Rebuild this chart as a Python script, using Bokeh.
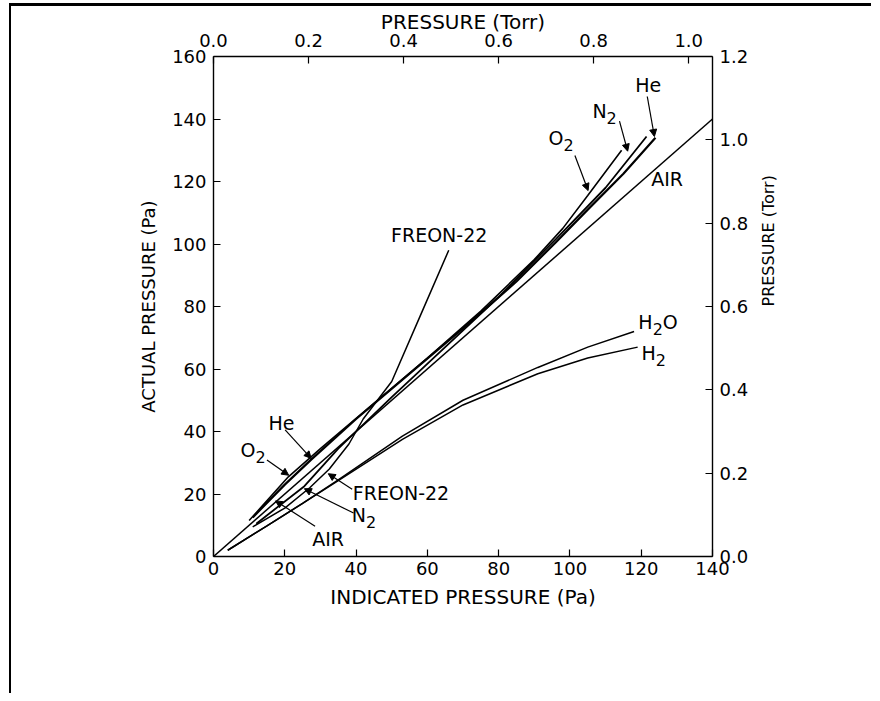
import math
from bokeh.plotting import figure
from bokeh.models import (Range1d, LinearAxis, FixedTicker, PrintfTickFormatter,
                          ColumnDataSource, Arrow, NormalHead)
from bokeh.core.properties import value
from bokeh.embed import file_html
from bokeh.resources import INLINE

PA_PER_TORR = 133.322

# ---- axes ticks ----
x_ticks = [0, 20, 40, 60, 80, 100, 120, 140]
y_ticks = [0, 20, 40, 60, 80, 100, 120, 140, 160]
torr_top_ticks = [0.0, 0.2, 0.4, 0.6, 0.8, 1.0]
torr_right_ticks = [0.0, 0.2, 0.4, 0.6, 0.8, 1.0, 1.2]

# ---- series: indicated pressure (Pa) vs actual pressure (Pa) ----
air_x = [0, 140]
air_y = [0, 140]

he_x = [11, 20, 27.4, 40, 55, 70, 85, 96, 105, 115, 124]
he_y = [12.5, 23, 31, 44, 58.5, 73, 88, 100.5, 111, 122.5, 134]

o2_x = [10, 21, 30, 45, 60, 75, 90, 98, 105, 114.5]
o2_y = [11.5, 25.5, 34.5, 49, 63.5, 78.5, 95, 105, 115.5, 130]

n2_x = [12, 25.5, 35, 50, 65, 80, 96, 110, 121.5]
n2_y = [10.5, 22.5, 34.5, 51, 67, 83, 101.5, 118, 134.4]

freon_x = [11, 20, 27, 32.5, 38, 42, 46, 50, 58, 66]
freon_y = [9.5, 15.5, 22, 28, 36, 44, 50, 56, 77, 98]

h2o_x = [4, 15, 25, 35, 53, 70, 91, 105, 118]
h2o_y = [2, 9.8, 17, 24.5, 38.5, 50, 60.5, 67, 72]

h2_x = [4, 15, 25, 35, 53, 70, 91, 105, 119]
h2_y = [2, 9.8, 17, 24.3, 37.5, 48.5, 58.5, 63.5, 67]

# ---- curve labels ----
label_base = ["He", "N", "O", "AIR", "FREON-22", "H", "H", "He", "O", "FREON-22", "N", "AIR"]
label_sub = ["", "2", "2", "", "", "2", "2", "", "2", "", "2", ""]
label_tail = ["", "", "", "", "", "O", "", "", "", "", "", ""]
label_x = [118.3, 106.3, 94.0, 122.8, 49.8, 119.2, 120.1, 15.4, 7.6, 39.1, 38.8, 27.7]
label_y = [151.0, 142.6, 133.8, 120.7, 102.8, 75.0, 65.2, 42.8, 34.2, 20.4, 13.3, 5.6]

# ---- leader arrows ----
arrow_x0 = [121.7, 113.9, 101.4, 20.1, 15.0, 39.3, 28.5, 38.9]
arrow_y0 = [147.2, 139.3, 128.3, 40.5, 30.9, 13.9, 9.7, 21.5]
arrow_x1 = [123.7, 116.2, 105.1, 27.4, 21.1, 25.5, 17.4, 32.2]
arrow_y1 = [134.4, 129.7, 117.1, 31.4, 26.0, 21.7, 17.8, 26.5]

FONT = "DejaVu Sans"

p = figure(width=862, height=690, x_range=Range1d(0, 140), y_range=Range1d(0, 160),
           output_backend="svg", toolbar_location=None,
           min_border_left=202, min_border_right=161, min_border_top=49, min_border_bottom=140)
p.styles = {"margin-top": "3px", "margin-left": "9px",
            "border-top": "3px solid black", "border-left": "2px solid black"}
p.grid.visible = False
p.outline_line_color = None
p.background_fill_color = "white"
p.border_fill_color = "white"

bottom_axis = p.below[0]
left_axis = p.left[0]

p.extra_x_ranges = {"torr_x": Range1d(0, 140 / PA_PER_TORR)}
p.extra_y_ranges = {"torr_y": Range1d(0, 160 / PA_PER_TORR)}

top_axis = LinearAxis(x_range_name="torr_x", ticker=FixedTicker(ticks=torr_top_ticks),
                      formatter=PrintfTickFormatter(format="%.1f"), axis_label="PRESSURE (Torr)")
right_axis = LinearAxis(y_range_name="torr_y", ticker=FixedTicker(ticks=torr_right_ticks),
                        formatter=PrintfTickFormatter(format="%.1f"), axis_label="PRESSURE (Torr)")
p.add_layout(top_axis, "above")
p.add_layout(right_axis, "right")

bottom_axis.ticker = FixedTicker(ticks=x_ticks)
left_axis.ticker = FixedTicker(ticks=y_ticks)
bottom_axis.axis_label = "INDICATED PRESSURE (Pa)"
left_axis.axis_label = "ACTUAL PRESSURE (Pa)"

for ax in [bottom_axis, left_axis, top_axis, right_axis]:
    ax.major_tick_in = 7
    ax.major_tick_out = 0
    ax.minor_tick_in = 0
    ax.minor_tick_out = 0
    ax.axis_line_color = "black"
    ax.axis_line_width = 1.4
    ax.major_tick_line_color = "black"
    ax.major_tick_line_width = 1.2
    ax.major_label_text_font = FONT
    ax.major_label_text_font_size = "18px"
    ax.major_label_text_color = "black"
    ax.axis_label_text_font = FONT
    ax.axis_label_text_font_style = "normal"
    ax.axis_label_text_color = "black"

bottom_axis.major_label_standoff = 5
bottom_axis.axis_label_standoff = 7
bottom_axis.axis_label_text_font_size = "20px"
left_axis.major_label_standoff = 7
left_axis.axis_label_standoff = 10
left_axis.axis_label_text_font_size = "18px"
top_axis.major_label_standoff = 10
top_axis.axis_label_standoff = -3
top_axis.axis_label_text_font_size = "20px"
right_axis.major_label_standoff = 7
right_axis.axis_label_standoff = 17
right_axis.axis_label_text_font_size = "16px"
right_axis.axis_label_orientation = math.pi / 2

# ---- curves ----
series = [(air_x, air_y, 1.5), (he_x, he_y, 2.2), (o2_x, o2_y, 1.6), (n2_x, n2_y, 1.8),
          (freon_x, freon_y, 1.5), (h2o_x, h2o_y, 1.5), (h2_x, h2_y, 1.5)]
for xs, ys, lw in series:
    p.line(xs, ys, line_color="black", line_width=lw)

# ---- arrows ----
arrow_src = ColumnDataSource(dict(x0=arrow_x0, y0=arrow_y0, x1=arrow_x1, y1=arrow_y1))
p.add_layout(Arrow(source=arrow_src, x_start="x0", y_start="y0", x_end="x1", y_end="y1",
                   line_color="black", line_width=1.2,
                   end=NormalHead(size=7, fill_color="black", line_color="black")))

# ---- labels ----
EM = {"N": 0.748, "O": 0.787, "H": 0.752, "2": 0.636}
BASE_PX = 19
SUB_PX = 16
p.text(x=label_x, y=label_y, text=label_base, text_font=value(FONT),
       text_font_size=f"{BASE_PX}px", text_baseline="middle", text_align="left", text_color="black")
for bx, by, base, sub, tail in zip(label_x, label_y, label_base, label_sub, label_tail):
    if not sub:
        continue
    off = sum(EM.get(c, 0.65) for c in base) * BASE_PX
    p.text(x=[bx], y=[by], text=[sub], x_offset=off, y_offset=7, text_font=value(FONT),
           text_font_size=f"{SUB_PX}px", text_baseline="middle", text_align="left", text_color="black")
    if tail:
        off2 = off + EM["2"] * SUB_PX
        p.text(x=[bx], y=[by], text=[tail], x_offset=off2, text_font=value(FONT),
               text_font_size=f"{BASE_PX}px", text_baseline="middle", text_align="left",
               text_color="black")

open("out.html", "w").write(file_html(p, INLINE))
